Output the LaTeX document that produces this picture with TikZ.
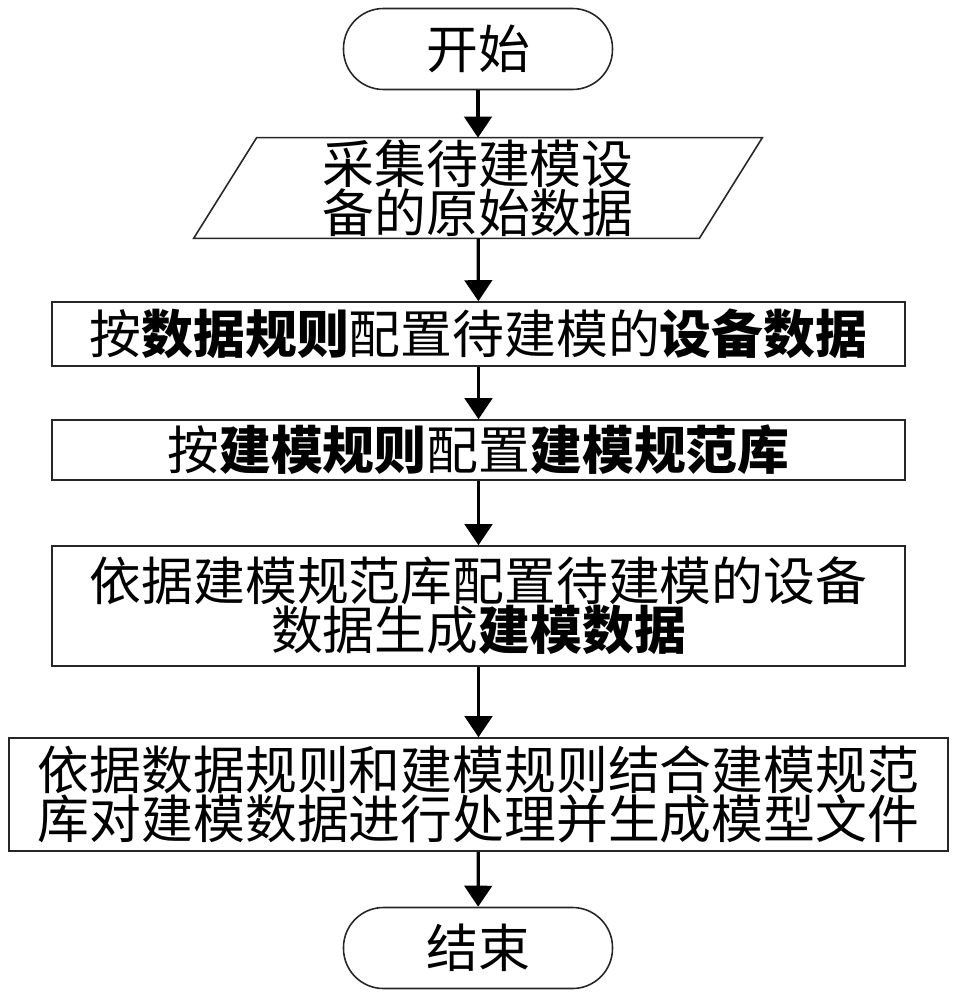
\documentclass[tikz,border=0pt]{standalone}
\usepackage{fontspec}
\newfontfamily\cjk{Noto Sans CJK SC}
\usepackage{tikz}
\usetikzlibrary{arrows.meta}
\newcommand{\linecol}{black!85}
\tikzset{
  every node/.style={font=\cjk\fontsize{29.5}{28}\selectfont},
  box/.style={draw=\linecol, line width=0.9pt, minimum width=17.06cm, align=center, inner sep=0pt},
  term/.style={draw=\linecol, line width=0.9pt, rounded corners=0.8cm, minimum width=5.38cm, minimum height=1.62cm},
  paratext/.style={minimum width=8.84cm, minimum height=2cm, align=center, inner sep=0pt},
  arr/.style={-{Triangle[width=0.55cm,length=0.42cm]}, line width=1.8pt},
}

\begin{document}
\begin{tikzpicture}

    \useasboundingbox (0, 0) rectangle (19.1, -20);

    \node[term] (start) at (9.56, -0.98) {开始};
    \node[paratext] (data) at (9.56, -3.76) {采集待建模设\\备的原始数据};
    \node[box, minimum height=1.28cm] (cfg) at (9.57, -6.68) {按\textbf{数据规则}配置待建模的\textbf{设备数据}};
    \node[box, minimum height=1.2cm] (lib) at (9.57, -9.0) {按\textbf{建模规则}配置\textbf{建模规范库}};
    \node[box, minimum height=2.4cm] (gen) at (9.57, -12.12) {依据建模规范库配置待建模的设备\\数据生成\textbf{建模数据}};
    \node[box, minimum height=2.26cm, minimum width=18.78cm] (proc) at (9.57, -15.89) {依据数据规则和建模规则结合建模规范\\库对建模数据进行处理并生成模型文件};
    \node[term] (stop) at (9.56, -18.96) {结束};

    % input parallelogram round the text
    \draw[draw=\linecol, line width=0.9pt] (data.north west) -- ([xshift=1.26cm]data.north east)
      -- (data.south east) -- ([xshift=-1.26cm]data.south west) -- cycle;

    \draw[arr] (start) -- (data);
    \draw[arr] (data) -- (cfg);
    \draw[arr] (cfg) -- (lib);
    \draw[arr] (lib) -- (gen);
    \draw[arr] (gen) -- (proc);
    \draw[arr] (proc) -- (stop);

  \end{tikzpicture}
\end{document}
